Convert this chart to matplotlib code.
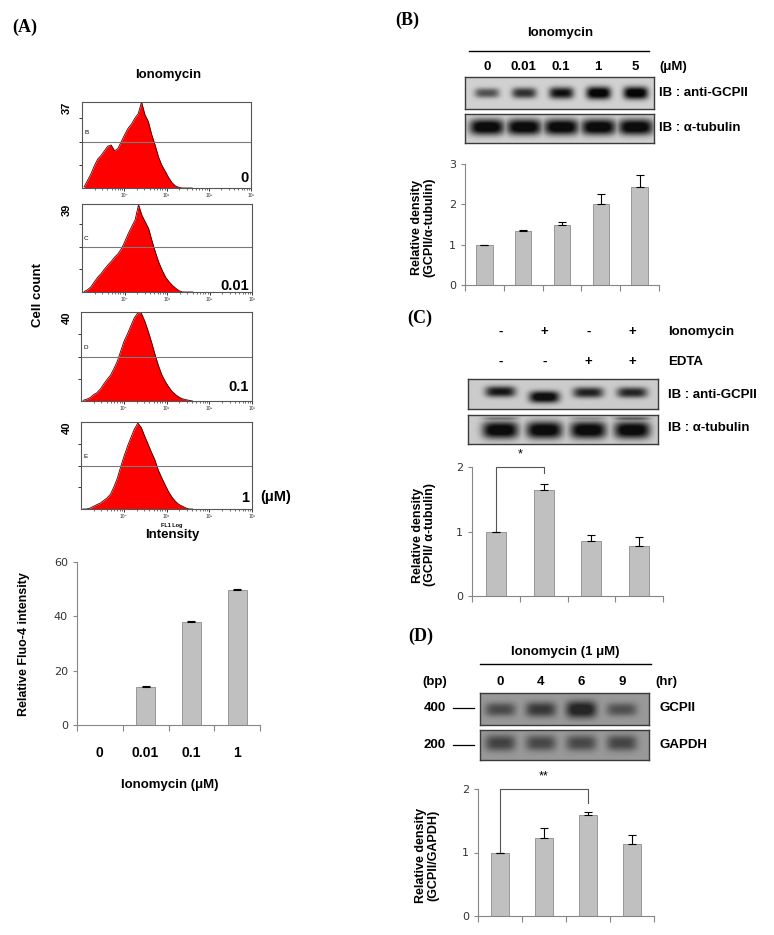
import numpy as np
import matplotlib
matplotlib.use('Agg')
import matplotlib.pyplot as plt

plt.rcParams['font.family'] = ['Liberation Sans', 'DejaVu Sans']

W, H = 774, 935

# ---- panel A: flow cytometry histograms (FL1 log, cell count) ----
hist_log_bins = [-0.95, -0.87, -0.79, -0.71, -0.63, -0.55, -0.47, -0.39, -0.31, -0.23, -0.15,
                 -0.07, 0.01, 0.09, 0.17, 0.25, 0.33, 0.41, 0.49, 0.57, 0.65, 0.73, 0.81,
                 0.89, 0.97, 1.05, 1.13, 1.21, 1.29, 1.37, 1.45, 1.53, 1.61]
hist_0 = [0.5, 3.3, 6, 9.5, 12.4, 14, 16, 18, 18.5, 16, 17, 20, 23, 25.7, 27.5, 30, 32, 37,
          31.5, 28.6, 23, 18.5, 13.4, 9.8, 7.2, 4.5, 2.3, 0.9, 0.3, 0, 0, 0, 0]
hist_001 = [0.2, 1.0, 2.3, 4.5, 6.6, 8.2, 10.2, 12, 13.6, 15.5, 17, 19.3, 22.5, 26, 29, 32, 38.7,
            34, 31, 28, 22.5, 17.5, 13, 9.5, 6.5, 4.5, 2.9, 1.6, 0.5, 0, 0, 0, 0]
hist_01 = [0.3, 0.8, 1.5, 2.8, 3.7, 5.3, 7.6, 9.7, 11.6, 14.6, 17.9, 22.5, 27, 30.3, 34, 37.5,
           39.6, 39.5, 36, 31.5, 26.5, 21, 16, 11.8, 8.8, 6.4, 4.3, 2.9, 1.8, 1.0, 0.6, 0.3, 0]
hist_1 = [0, 0, 0.4, 1.2, 2, 2.7, 3.9, 5.1, 6.8, 10.2, 14.2, 19.5, 24.5, 29, 33, 36.8, 39.5,
          37.5, 33.5, 29.8, 26, 22.5, 17.8, 14.3, 11, 7.9, 5.4, 3.5, 2.1, 1.3, 0.5, 0, 0]
hist_ymax = [37, 39, 40, 40]
hist_gates = ['B', 'C', 'D', 'E']
hist_doses = ['0', '0.01', '0.1', '1']

a_doses = ['0', '0.01', '0.1', '1']
a_vals = [0, 14.1, 38.0, 49.7]
a_err = [0, 0.2, 0.2, 0.2]

# ---- panel B ----
b_doses = ['0', '0.01', '0.1', '1', '5']
b_vals = [1.0, 1.35, 1.48, 2.01, 2.44]
b_err = [0.0, 0.02, 0.07, 0.25, 0.29]
b_gcpii_band = [0.55, 0.7, 0.85, 1.0, 1.0]
b_tub_band = [1.0, 1.0, 1.0, 1.0, 1.0]

# ---- panel C ----
c_iono = ['-', '+', '-', '+']
c_edta = ['-', '-', '+', '+']
c_vals = [1.0, 1.65, 0.86, 0.78]
c_err = [0.0, 0.09, 0.09, 0.13]
c_gcpii_band = [0.85, 1.0, 0.8, 0.78]
c_tub_band = [1.0, 1.0, 1.0, 1.0]
c_tub_upper = [0.4, 0.15, 0.3, 0.5]

# ---- panel D ----
d_hours = ['0', '4', '6', '9']
d_vals = [1.0, 1.23, 1.59, 1.13]
d_err = [0.0, 0.15, 0.05, 0.14]
d_gcpii_band = [0.6, 0.75, 1.0, 0.55]
d_gapdh_band = [0.75, 0.7, 0.7, 0.72]

fig = plt.figure(figsize=(W / 100, H / 100), dpi=100)


def add_ax(x0, y0, x1, y1):
    return fig.add_axes([x0 / W, 1 - y1 / H, (x1 - x0) / W, (y1 - y0) / H])


def put(x, y, s, size=9.5, weight='bold', **kw):
    kw.setdefault('ha', 'center')
    kw.setdefault('va', 'center')
    fig.text(x / W, 1 - y / H, s, fontsize=size, fontweight=weight, **kw)


def hline(x0, x1, y, lw=1.0, color='black'):
    fig.add_artist(plt.Line2D([x0 / W, x1 / W], [1 - y / H, 1 - y / H], color=color, lw=lw))


def histo(box, counts, ymax, gate):
    ax = add_ax(*box)
    x = 10 ** np.array(hist_log_bins)
    ax.fill_between(x, counts, color='#ff0000', lw=0)
    ax.plot(x, counts, color='#3c0000', lw=0.6)
    ax.axhline(20, color='#7a7a7a', lw=0.8)
    ax.set_xscale('log')
    ax.set_xlim(0.1, 1000)
    ax.set_ylim(0, ymax)
    ax.set_xticks([1, 10, 100, 1000])
    ax.set_xticklabels(['10⁰', '10¹', '10²', '10³'])
    ax.set_yticks([10, 20, 30])
    ax.set_yticklabels([])
    ax.tick_params(which='major', length=2.5, width=0.7, pad=1, labelsize=3.5, colors='#333333')
    ax.tick_params(which='minor', length=1.5, width=0.5, colors='#333333')
    ax.xaxis.set_minor_formatter(plt.NullFormatter())
    for s in ax.spines.values():
        s.set_color('#555555')
        s.set_linewidth(0.8)
    ax.text(0.012, 20 / ymax + 0.1, gate, transform=ax.transAxes, fontsize=4.5, va='center')
    return ax


def bars(box, vals, errs, ymax, step):
    ax = add_ax(*box)
    x = np.arange(len(vals))
    v = np.array(vals, dtype=float)
    e = np.array(errs, dtype=float)
    ax.bar(x, v, 0.42, color='#c0c0c0', edgecolor='#8c8c8c', lw=0.6, zorder=2)
    show = v > 0
    ax.errorbar(x[show], v[show], yerr=[np.zeros(show.sum()), e[show]], fmt='none',
                ecolor='black', elinewidth=0.8, capsize=3, capthick=0.8, zorder=3)
    ax.set_xlim(-0.5, len(vals) - 0.5)
    ax.set_ylim(0, ymax)
    ax.set_xticks(np.arange(len(vals) + 1) - 0.5)
    ax.set_xticklabels([])
    ax.set_yticks(np.arange(0, ymax + step / 2, step))
    for s in ['top', 'right']:
        ax.spines[s].set_visible(False)
    for s in ['left', 'bottom']:
        ax.spines[s].set_color('#868686')
        ax.spines[s].set_linewidth(0.8)
    ax.tick_params(colors='#868686', labelcolor='#333333', labelsize=8, length=3, width=0.8)
    ax.tick_params(axis='x', length=4)
    for lab in ax.get_yticklabels():
        lab.set_family('DejaVu Sans')
    ax.patch.set_alpha(0)
    return ax


def blot(box, centers, half_w, band_sets, bg, dark):
    ax = add_ax(*box)
    X, Y = np.meshgrid(np.linspace(0, 1, 380), np.linspace(0, 1, 70))
    dens = np.zeros_like(X)
    for levels, ypos, thick in band_sets:
        for c, lv, yp in zip(centers, levels, ypos):
            t = thick * (0.5 + 0.5 * lv)
            band = lv * np.exp(-np.abs((X - c) / half_w) ** 4) * np.exp(-np.abs((Y - yp) / t) ** 2.5)
            dens = np.maximum(dens, band)
    dens = np.clip(dens * 1.15, 0, 1)
    img = bg - (bg - dark) * dens
    ax.imshow(img, cmap='gray', vmin=0, vmax=1, aspect='auto', interpolation='bilinear',
              extent=[0, 1, 1, 0])
    ax.set_xticks([])
    ax.set_yticks([])
    for s in ax.spines.values():
        s.set_color('#3a3a3a')
        s.set_linewidth(1.0)
    return ax


def bracket(ax, x0, x1, y0, ytop, y1, label, lab_y):
    ax.plot([x0, x0, x1, x1], [y0, ytop, ytop, y1], color='#555555', lw=0.8, clip_on=False)
    ax.text((x0 + x1) / 2, lab_y, label, ha='center', va='center', fontsize=9, clip_on=False)


# ================= panel A =================
put(12, 27, '(A)', size=13, ha='left', family='Liberation Serif')
put(168, 75, 'Ionomycin')

hist_boxes = [(82, 102, 251, 188), (82, 204, 252, 292), (81, 312, 252, 401), (81, 422, 252, 509)]
hist_label_y = [178, 286, 387, 498]
for box, counts, ymax, gate, dose, ly in zip(hist_boxes, [hist_0, hist_001, hist_01, hist_1],
                                             hist_ymax, hist_gates, hist_doses, hist_label_y):
    histo(box, counts, ymax, gate)
    put(67, box[1] + 6, str(ymax), size=8, rotation=90)
    put(249, ly, dose, size=10.5, ha='right')
put(276, 497, '(μM)', size=10.5)
put(38, 295, 'Cell count', size=9.5, rotation=90)
put(172, 526, 'FL1 Log', size=4)
put(172, 535, 'Intensity', size=9.5)

ax_a = bars((77, 562, 260, 725), a_vals, a_err, 60, 20)
for i, lab in enumerate(a_doses):
    ax_a.text(i, -0.17, lab, transform=ax_a.get_xaxis_transform(), ha='center', va='center',
              fontsize=10, fontweight='bold')
put(24, 644, 'Relative Fluo-4 intensity', size=9, rotation=90)
put(170, 785, 'Ionomycin (μM)', size=9.5)

# ================= panel B =================
put(395, 20, '(B)', size=13, ha='left', family='Liberation Serif')
put(560, 33, 'Ionomycin')
hline(469, 649, 51)
b_centers = np.linspace(0.115, 0.9, len(b_doses))
for c, lab in zip(b_centers, b_doses):
    put(465 + c * 189, 67, lab)
put(673, 67, '(μM)')
blot((465, 77, 654, 109), b_centers, 0.065,
     [(b_gcpii_band, [0.5] * 5, 0.2)], 0.82, 0.03)
blot((465, 114, 654, 143), b_centers, 0.092,
     [(b_tub_band, [0.45] * 5, 0.28)], 0.82, 0.05)
put(659, 93, 'IB : anti-GCPII', ha='left')
put(659, 128, 'IB : α-tubulin', ha='left')
bars((465, 164, 659, 285), b_vals, b_err, 3, 1)
put(423, 227, 'Relative density\n(GCPII/α-tubulin)', size=9, rotation=90, linespacing=1.1)

# ================= panel C =================
put(407, 318, '(C)', size=13, ha='left', family='Liberation Serif')
c_centers = np.linspace(0.17, 0.865, len(c_iono))
for c, s1, s2 in zip(c_centers, c_iono, c_edta):
    put(468 + c * 190, 332, s1)
    put(468 + c * 190, 362, s2)
put(668, 332, 'Ionomycin', ha='left')
put(668, 362, 'EDTA', ha='left')
blot((468, 379, 658, 409), c_centers, 0.08,
     [(c_gcpii_band, [0.42, 0.6, 0.45, 0.45], 0.2)], 0.8, 0.06)
blot((468, 415, 658, 444), c_centers, 0.095,
     [(c_tub_upper, [0.12] * 4, 0.1), (c_tub_band, [0.52] * 4, 0.3)], 0.8, 0.05)
put(668, 395, 'IB : anti-GCPII', ha='left')
put(668, 428, 'IB : α-tubulin', ha='left')
ax_c = bars((472, 467, 663, 596), c_vals, c_err, 2, 1)
bracket(ax_c, 0, 1, c_vals[0], 2.0, 1.9, '*', 2.2)
put(424, 535, 'Relative density\n(GCPII/ α-tubulin)', size=9, rotation=90, linespacing=1.1)

# ================= panel D =================
put(408, 636, '(D)', size=13, ha='left', family='Liberation Serif')
put(565, 652, 'Ionomycin (1 μM)')
hline(480, 651, 664)
d_centers = np.linspace(0.12, 0.84, len(d_hours))
put(435, 682, '(bp)')
for c, lab in zip(d_centers, d_hours):
    put(480 + c * 169, 682, lab)
put(666, 682, '(hr)')
blot((480, 693, 649, 725), d_centers, 0.09,
     [(d_gcpii_band, [0.53] * 4, 0.26)], 0.6, 0.15)
blot((480, 730, 649, 760), d_centers, 0.09,
     [(d_gapdh_band, [0.45] * 4, 0.3)], 0.6, 0.2)
put(660, 708, 'GCPII', ha='left')
put(660, 745, 'GAPDH', ha='left')
put(435, 708, '400')
put(435, 745, '200')
hline(453, 474, 708, lw=0.9)
hline(453, 474, 745, lw=0.9)
ax_d = bars((478, 789, 654, 916), d_vals, d_err, 2, 1)
bracket(ax_d, 0, 2, d_vals[0], 2.0, 1.78, '**', 2.2)
put(427, 855, 'Relative density\n(GCPII/GAPDH)', size=9, rotation=90, linespacing=1.1)

fig.savefig('out.png', dpi=100)
